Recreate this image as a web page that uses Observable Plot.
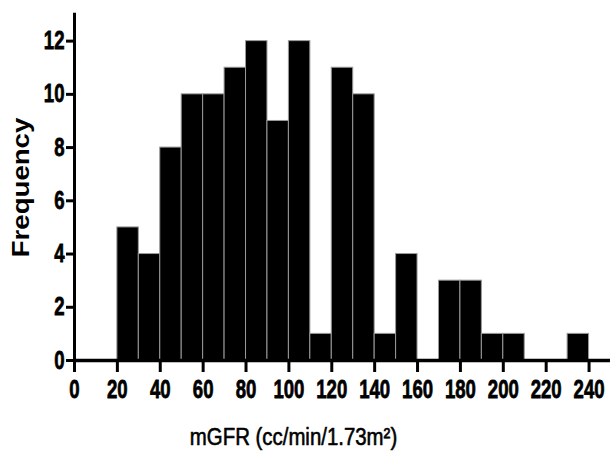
<!DOCTYPE html>
<html>
<head>
<meta charset="utf-8">
<script src="https://cdn.jsdelivr.net/npm/d3@7"></script>
<script src="https://cdn.jsdelivr.net/npm/@observablehq/plot@0.6"></script>
<style>
  html, body { margin: 0; padding: 0; background: #fff; }
</style>
</head>
<body>
<div id="chart"></div>
<script>
// Histogram of mGFR: bin lower edges (width 10) and counts
const binStart = [20, 30, 40, 50, 60, 70, 80, 90, 100, 110, 120, 130, 140, 150, 160, 170, 180, 190, 200, 210, 220, 230];
const counts   = [ 5,  4,  8, 10, 10, 11, 12,  9,  12,   1,  11,  10,   1,   4,   0,   3,   3,   1,   1,   0,   0,   1];
const binWidth = 10;
const xTicks = [0, 20, 40, 60, 80, 100, 120, 140, 160, 180, 200, 220, 240];
const yTicks = [0, 2, 4, 6, 8, 10, 12];
const xTitle = "mGFR (cc/min/1.73m²)";
const yTitle = "Frequency";

const bins = binStart.map((s, i) => ({x1: s, x2: s + binWidth, n: counts[i]})).filter(d => d.n > 0);

const font = "'Liberation Sans', Arial, Helvetica, sans-serif";

const chart = Plot.plot({
  width: 610,
  height: 453,
  marginLeft: 74,
  marginRight: 0,
  marginTop: 14,
  marginBottom: 93,
  style: {fontFamily: font, fontSize: "20px", fontWeight: "bold", color: "#000", background: "#fff"},
  x: {domain: [0, 250]},
  y: {domain: [0, 13]},
  marks: [
    Plot.rectY(bins, {x1: "x1", x2: "x2", y: "n", fill: "#000", stroke: "#9a9a9a", strokeWidth: 1}),
    Plot.ruleY([0], {stroke: "#000", strokeWidth: 3.5}),
    Plot.ruleX([0], {y1: 0, y2: 13.05, stroke: "#000", strokeWidth: 3}),
    Plot.axisX({ticks: xTicks, tickSize: 12, tickPadding: 8, strokeWidth: 3, fontSize: 20, fontWeight: "bold", label: null, tickFormat: d => String(d)}),
    Plot.axisY({ticks: yTicks, tickSize: 8, tickPadding: 2, strokeWidth: 3, fontSize: 20, fontWeight: "bold", label: null, tickFormat: d => String(d)}),
    Plot.text([xTitle], {frameAnchor: "bottom", dx: -49, dy: 84, fontSize: 24, fontWeight: "normal", fill: "#000", stroke: "#000", strokeWidth: 0.6}),
    Plot.text([yTitle], {frameAnchor: "left", textAnchor: "middle", dx: -53, rotate: -90, fontSize: 24, fontWeight: "bold", fill: "#000"})
  ]
});

document.getElementById("chart").appendChild(chart);

// Condensed, tall letterforms as in the reference
const addScale = (t, sx, sy) => t.setAttribute("transform", (t.getAttribute("transform") || "") + ` scale(${sx},${sy})`);
chart.querySelectorAll("g[aria-label$='tick label'] text").forEach(t => {
  addScale(t, 0.93, 1.25);
  t.setAttribute("stroke", "#000");
  t.setAttribute("stroke-width", "0.6");
});
chart.querySelectorAll("text").forEach(t => {
  if (t.textContent === yTitle) addScale(t, 1.15, 1);
  if (t.textContent === xTitle) addScale(t, 0.85, 1);
});
</script>
</body>
</html>
